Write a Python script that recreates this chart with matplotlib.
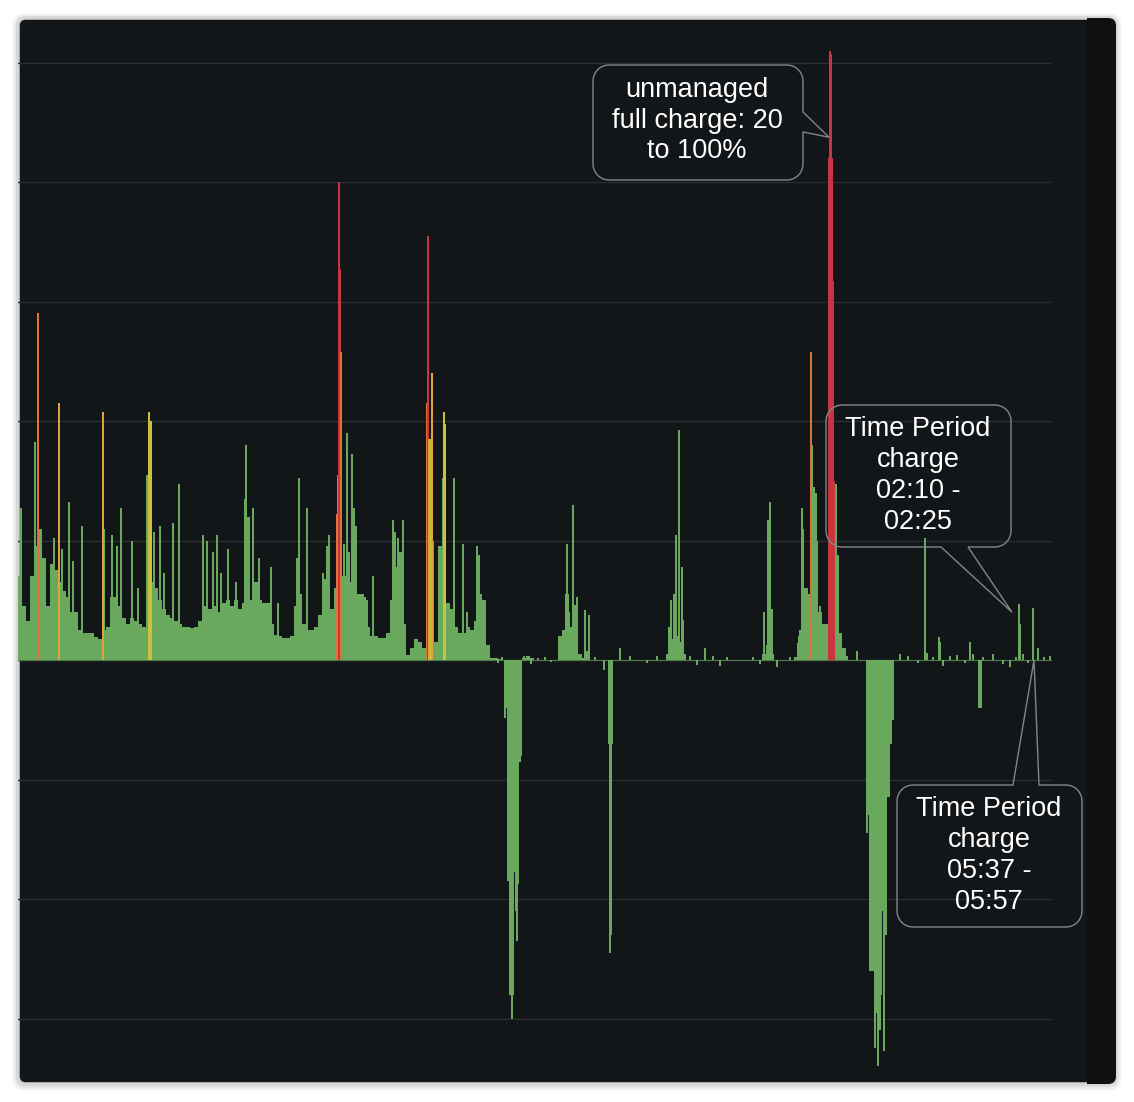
import numpy as np
import matplotlib
matplotlib.use("Agg")
import matplotlib.pyplot as plt
from matplotlib.patches import FancyBboxPatch, Rectangle, Polygon

# grid power in kW, one bar per 4 samples (positive = import, negative = export)
base_kw = [
    1.4, 0.9, 0.65, 1.4, 1.9, 2.2, 1.7, 0.9, 1.6, 1.5,
    1.3, 1.15, 1.05, 0.8, 0.8, 0.5, 0.45, 0.45, 0.45, 0.38,
    0.35, 0.5, 0.55, 1.05, 1.05, 0.9, 0.7, 0.6, 0.7, 0.65,
    0.6, 0.55, 3.1, 1.3, 1.2, 1.0, 0.85, 0.75, 0.7, 0.65,
    0.6, 0.55, 0.55, 0.53, 0.55, 0.65, 0.9, 0.85, 0.85, 0.9,
    0.8, 0.95, 1.0, 0.9, 1.0, 0.85, 0.95, 2.4, 1.0, 1.3,
    1.0, 0.95, 0.95, 0.6, 0.42, 0.4, 0.37, 0.37, 0.4, 0.9,
    1.1, 0.6, 0.5, 0.5, 0.55, 0.75, 1.35, 1.85, 0.85, 1.2,
    1.3, 1.4, 1.65, 1.3, 1.1, 1.1, 1.05, 0.55, 0.4, 0.4,
    0.37, 0.37, 0.45, 1.0, 1.55, 1.8, 0.6, 0.08, 0.2, 0.35,
    0.3, 0.2, 2.0, 2.0, 0.3, 1.9, 2.9, 0.95, 0.85, 0.55,
    0.45, 0.45, 0.55, 0.5, 0.65, 1.1, 1.0, 0.25, 0.04, 0.03,
    0.02, 0.0, -0.8, -1.65, -1.65, -1.6, 0.03, 0.06, 0.03, 0.0,
    0.0, 0.0, 0.0, 0.0, 0.0, 0.4, 0.5, 0.8, 0.55, 0.8,
    0.1, 0.04, 0.0, 0.0, 0.0, 0.0, 0.0, 0.0, 0.0, 0.0,
    0.0, 0.0, 0.0, 0.0, 0.0, 0.0, 0.0, 0.0, 0.0, 0.0,
    0.0, 0.0, 0.1, 0.35, 0.4, 0.3, 0.1, 0.0, 0.0, 0.0,
    0.0, 0.0, 0.0, 0.0, 0.0, 0.0, 0.0, 0.0, 0.0, 0.0,
    0.0, 0.0, 0.0, 0.0, 0.0, 0.0, 0.1, 0.25, 0.1, 0.0,
    0.0, 0.0, 0.0, 0.0, 0.05, 0.4, 1.2, 1.1, 2.0, 2.0,
    0.8, 0.6, 0.6, 0.6, 0.5, 0.45, 0.2, 0.0, 0.0, 0.0,
    0.0, 0.0, -2.6, -5.2, -5.9, -5.6, -4.2, -2.3, -1.0, 0.0,
    0.0, 0.0, 0.0, 0.0, 0.0, 0.0, 0.0, 0.0, 0.0, 0.0,
    0.0, 0.0, 0.0, 0.0, 0.0, 0.0, 0.0, 0.0, 0.0, 0.0,
    -0.8, 0.0, 0.0, 0.0, 0.0, 0.0, 0.0, 0.0, 0.0, 0.0,
    0.0, 0.0, 0.0, 0.0, 0.0, 0.0, 0.0, 0.0, 0.0,
]

# single readings that stick out of the base (sample index, kW)
spike_t = [
    3.3, 17.3, 36.0, 44.3, 51.3, 55.3, 64.3, 86.3, 94.3, 99.3,
    103.3, 113.7, 120.3, 136.3, 142.3, 146.3, 155.3, 161.3, 185.3, 188.7,
    195.3, 199.3, 203.3, 210.3, 218.0, 227.3, 228.0, 231.3, 235.3, 241.3,
    253.3, 260.3, 279.3, 281.3, 289.3, 305.3, 308.7, 311.3, 326.3, 329.3,
    331.3, 334.3, 336.3, 338.3, 345.3, 348.7, 355.3, 374.7, 377.3, 380.3,
    384.7, 398.7, 402.0, 425.3, 436.3, 445.3, 448.7, 458.7, 461.3,
    548.0, 549.3, 550.5, 555.3, 557.0, 558.7, 567.3, 571.3,
    651.3, 653.3, 656.3, 658.3, 661.3, 664.3, 665.3,
    746.0, 750.3, 752.3, 753.7, 780.3, 782.0, 784.3, 785.3, 788.7, 790.3,
    794.3, 796.0, 798.0, 802.3, 817.7, 820.3, 838.7, 907.3, 921.0, 922.0,
    952.3, 1001.3, 1002.3, 1015.0, 1020.3,
    487.0, 490.0, 491.0, 492.0, 493.0, 494.0, 495.0, 496.0, 497.0, 497.6,
    498.0, 498.8, 499.0, 500.0, 501.0, 502.0, 503.0,
    586.0, 591.0, 592.0, 593.0, 594.0,
    849.0, 852.0, 857.0, 860.0, 862.0, 866.0, 868.0, 870.0, 873.0,
]
spike_kw = [
    2.55, 3.65, 2.05, 1.85, 2.65, 1.65, 2.25, 2.2, 2.1, 1.9,
    2.55, 2.0, 1.2, 2.15, 2.25, 1.45, 2.3, 2.95, 2.1, 2.0,
    1.8, 2.1, 1.45, 1.85, 1.3, 2.7, 3.6, 1.65, 2.55, 1.7,
    1.55, 0.95, 1.7, 3.05, 2.55, 1.45, 1.9, 2.1, 1.95, 3.8,
    1.8, 3.45, 2.55, 2.25, 1.1, 1.0, 1.4, 2.35, 2.15, 2.05,
    2.35, 0.35, 0.3, 3.05, 3.05, 1.95, 0.8, 1.9, 1.75,
    1.1, 1.95, 1.1, 2.6, 0.92, 1.05, 0.83, 0.75,
    0.55, 1.0, 1.1, 2.1, 3.85, 1.55, 0.67,
    0.8, 2.35, 2.65, 0.85, 0.28, 0.5, 2.55, 2.2, 1.2, 1.0,
    3.6, 2.9, 2.8, 0.9, 2.95, 1.75, 0.15, 2.05, 0.38, 0.3,
    0.3, 0.93, 0.6, 0.87, 0.12,
    -0.97, -3.7, -3.7, -5.6, -5.6, -6.0, -5.6, -3.55, -3.2, -4.2,
    -3.2, -4.7, -3.75, -3.75, -1.7, -1.7, -1.45,
    -0.17, -1.4, -4.9, -4.6, -1.4,
    -2.9, -5.2, -6.5, -6.8, -6.2, -6.55, -4.6, -1.7, -1.4,
]

# small jitter on the idle stretches
tick_t = [476, 480, 484, 506, 509, 513, 520, 527, 533, 569,
          577, 602, 612, 629, 639, 649, 672, 679, 687, 695,
          702, 709, 735, 742, 759, 772, 829, 839, 882, 890,
          900, 909, 915, 925, 932, 939, 947, 955, 965, 975,
          985, 992, 998, 1005, 1010, 1020, 1026, 1032]
tick_kw = [0.04, -0.05, 0.05, 0.07, 0.05, -0.06, 0.04, 0.05, -0.04, 0.15,
           0.05, 0.2, 0.06, -0.05, 0.07, 0.05, 0.06, -0.08, 0.2, 0.06,
           -0.1, 0.05, 0.05, -0.07, -0.12, 0.05, 0.07, 0.1, 0.1, 0.06,
           -0.05, 0.12, 0.05, -0.1, 0.06, 0.08, -0.05, 0.1, 0.05, 0.1,
           -0.06, -0.12, 0.05, 0.1, -0.05, 0.2, 0.05, 0.06]

# readings coloured by charging state
hot_t = [20.3, 41.3, 85.3, 131.3, 133.3, 319.3, 320.3, 321.3, 322.3, 323.0,
         408.7, 410.3, 411.3, 413.0, 414.3, 426.3, 427.3, 793.0,
         811, 812, 813, 814, 815, 816]
hot_kw = [5.8, 4.3, 4.15, 4.15, 4.0, 2.45, 3.1, 8.0, 6.55, 5.15,
          4.3, 7.1, 3.7, 3.7, 4.8, 4.15, 3.95, 5.15,
          8.4, 10.2, 10.15, 8.4, 6.35, 3.0]
hot_level = ["orange", "amber", "amber", "yellow", "yellow", "orange", "orange", "red", "red", "orange",
             "orange", "red", "amber", "yellow", "amber", "yellow", "yellow", "orange",
             "red", "red", "red", "red", "red", "red"]

note_text = ["unmanaged\nfull charge: 20\nto 100%",
             "Time Period\ncharge\n02:10 -\n02:25",
             "Time Period\ncharge\n05:37 -\n05:57"]
note_tip_t = [811, 994, 1016]
note_tip_kw = [8.75, 0.8, 0.0]

GREEN = "#68a95d"
BG = "#131619"
level_color = {"yellow": "#cbc13e", "amber": "#e0a23a", "orange": "#dc7438", "red": "#c8343f"}

W, H = 1134, 1102
fig = plt.figure(figsize=(W / 100, H / 100), dpi=100, facecolor="white")


def fpt(x, y):
    # pixel (top-left origin) -> figure fraction
    return (x / W, 1 - y / H)


# card with soft shadow
for k in range(6, 0, -1):
    sh = FancyBboxPatch(fpt(18 - k, 1084 + k + 1), (1098 + 2 * k) / W, (1066 + 2 * k) / H,
                        boxstyle="round,pad=0,rounding_size=%f" % ((8 + k) / W),
                        transform=fig.transFigure, fc="black", ec="none", alpha=0.025, zorder=-5)
    fig.add_artist(sh)
panel = FancyBboxPatch(fpt(18, 1084), 1098 / W, 1066 / H,
                       boxstyle="round,pad=0,rounding_size=%f" % (8 / W),
                       transform=fig.transFigure, fc=BG, ec="#d6d6d6", lw=2.5, zorder=-3)
fig.add_artist(panel)
strip = Rectangle(fpt(1087, 1084), 30 / W, 1066 / H, transform=fig.transFigure,
                  fc="#0d0f11", ec="none", zorder=-2)
fig.add_artist(strip)
strip.set_clip_path(panel)

ax = fig.add_axes([18 / W, 1 - 1084 / H, 1034 / W, 1066 / H])
ax.set_facecolor("none")
ax.set_xlim(0, 1034)
ax.set_ylim(-7.096, 10.745)
ax.set_yticks(np.arange(-6, 11, 2))
ax.yaxis.grid(True, color="#2a2d31", lw=1)
ax.set_axisbelow(True)
ax.tick_params(length=0, labelleft=False, labelbottom=False)
ax.set_xticks([])
for s in ax.spines.values():
    s.set_visible(False)

ax.axhline(0, color=GREEN, lw=0.8, alpha=0.6, zorder=1)
ax.bar(np.arange(len(base_kw)) * 4, base_kw, width=4, align="edge", color=GREEN, lw=0, zorder=2)
ax.bar(spike_t, spike_kw, width=1.7, color=GREEN, lw=0, zorder=2)
ax.bar(tick_t, tick_kw, width=1.2, color=GREEN, lw=0, zorder=2)
ax.bar(hot_t, hot_kw, width=1.9, color=[level_color[l] for l in hot_level], lw=0, zorder=3)


def bubble(x0, y0, x1, y1, side, a, b, tip, r=16):
    def arc(cx, cy, a0, a1):
        ang = np.radians(np.linspace(a0, a1, 9))
        return [(cx + r * np.cos(t), cy + r * np.sin(t)) for t in ang]
    pts = arc(x0 + r, y0 + r, 180, 270)
    if side == "top":
        pts += [(a, y0), tip, (b, y0)]
    pts += arc(x1 - r, y0 + r, 270, 360)
    if side == "right":
        pts += [(x1, a), tip, (x1, b)]
    pts += arc(x1 - r, y1 - r, 0, 90)
    if side == "bottom":
        pts += [(b, y1), tip, (a, y1)]
    pts += arc(x0 + r, y1 - r, 90, 180)
    return [fpt(x, y) for x, y in pts]


boxes = [(593, 65, 803, 180, "right", 112, 132),
         (826, 405, 1011, 547, "bottom", 941, 968),
         (897, 785, 1082, 927, "top", 1013, 1039)]
text_pos = [(697, 120.5), (918, 475.5), (989, 855.5)]

for i, (x0, y0, x1, y1, side, a, b) in enumerate(boxes):
    dx, dy = ax.transData.transform((note_tip_t[i], note_tip_kw[i]))
    tip = (dx, H - dy)
    poly = Polygon(bubble(x0, y0, x1, y1, side, a, b, tip), closed=True, fill=False,
                   ec="#858585", lw=1, transform=fig.transFigure, zorder=5)
    fig.add_artist(poly)
    tx, ty = fpt(*text_pos[i])
    fig.text(tx, ty, note_text[i], ha="center", va="center", ma="center", color="white",
             fontsize=19.5, family="Liberation Sans", linespacing=1.24, zorder=6)

fig.savefig("out.png", dpi=100, facecolor="white")
